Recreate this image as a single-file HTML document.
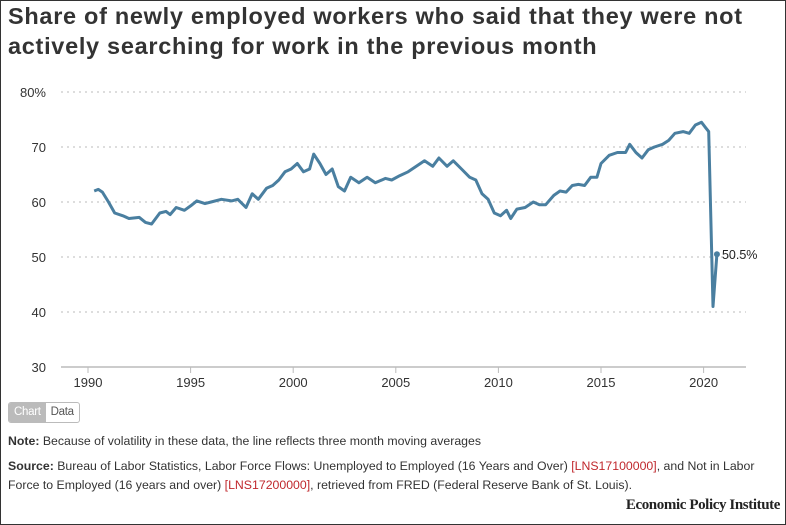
<!DOCTYPE html>
<html><head><meta charset="utf-8"><style>
body{margin:0;width:786px;height:525px;background:#fff;font-family:"Liberation Sans",sans-serif;overflow:hidden}
#frame{position:absolute;left:0;top:0;width:784px;height:523px;border:1px solid #333}
h1{position:absolute;left:8px;top:1px;margin:0;font-size:23.5px;line-height:30px;font-weight:bold;color:#333;letter-spacing:0.7px;width:775px}
.ft{position:absolute;left:8px;font-size:12.3px;color:#333;letter-spacing:0px;line-height:19px}
.red{color:#c0282d}
</style></head><body>
<div id="frame"></div>
<h1>Share of newly employed workers who said that they were not actively searching for work in the previous month</h1>
<svg id="chart" width="786" height="400" style="position:absolute;left:0;top:0"></svg>
<div style="position:absolute;left:8px;top:402px;height:19px;border:1px solid #bbb;border-radius:3px;font-size:11.5px;display:flex;overflow:hidden;letter-spacing:-0.3px">
<span style="background:#bbb;color:#fff;padding:2px 5px;line-height:15px">Chart</span>
<span style="color:#555;padding:2px 5px;line-height:15px">Data</span></div>
<div class="ft" style="top:432px"><b>Note:</b> Because of volatility in these data, the line reflects three month moving averages</div>
<div class="ft" style="top:457px;width:752px"><b>Source:</b> Bureau of Labor Statistics, Labor Force Flows: Unemployed to Employed (16 Years and Over) <span class="red">[LNS17100000]</span>, and Not in Labor Force to Employed (16 years and over) <span class="red">[LNS17200000]</span>, retrieved from FRED (Federal Reserve Bank of St. Louis).</div>
<div style="position:absolute;right:6px;top:497px;font-family:'Liberation Serif',serif;font-weight:bold;font-size:15px;color:#222;letter-spacing:-0.4px">Economic Policy Institute</div>
<script>
const years=[1990.3,1990.5,1990.7,1991,1991.3,1991.7,1992,1992.5,1992.8,1993.1,1993.5,1993.8,1994,1994.3,1994.7,1995,1995.3,1995.7,1996,1996.5,1997,1997.3,1997.7,1998,1998.3,1998.7,1999,1999.3,1999.6,1999.9,2000.2,2000.5,2000.8,2001,2001.3,2001.6,2001.9,2002.2,2002.5,2002.8,2003.2,2003.6,2004,2004.5,2004.8,2005.2,2005.6,2006,2006.4,2006.8,2007.1,2007.5,2007.8,2008.2,2008.6,2008.9,2009.2,2009.5,2009.8,2010.1,2010.4,2010.6,2010.9,2011.3,2011.7,2012,2012.3,2012.7,2013,2013.3,2013.6,2013.9,2014.2,2014.5,2014.8,2015,2015.4,2015.8,2016.2,2016.4,2016.7,2017,2017.3,2017.6,2018,2018.3,2018.6,2019,2019.3,2019.6,2019.9,2020.1,2020.25,2020.46,2020.65];
const values=[62,62.3,61.8,60,58,57.5,57,57.2,56.3,56,58,58.3,57.7,59,58.5,59.3,60.2,59.7,60,60.5,60.2,60.5,59,61.5,60.5,62.5,63,64,65.5,66,67,65.5,66,68.7,67,65,66,62.8,62,64.5,63.5,64.5,63.5,64.3,64,64.8,65.5,66.5,67.5,66.5,68,66.5,67.5,66,64.5,64,61.5,60.5,58,57.5,58.5,57,58.7,59,60,59.5,59.5,61.2,62,61.8,63,63.2,63,64.5,64.5,67,68.5,69,69,70.5,69,68,69.5,70,70.5,71.2,72.5,72.8,72.5,74,74.5,73.5,72.8,41,50.5];
const yTicks=[30,40,50,60,70,80];
const xTicks=[1990,1995,2000,2005,2010,2015,2020];
const NS='http://www.w3.org/2000/svg';
const svg=document.getElementById('chart');
const X=v=>88+(v-1990)*20.52;
const Y=v=>367-(v-30)*5.5;
function mk(t,a){const e=document.createElementNS(NS,t);for(const k in a)e.setAttribute(k,a[k]);svg.appendChild(e);return e;}
yTicks.forEach(t=>{
  const g=mk('line',{x1:61,x2:746,y1:Y(t),y2:Y(t),stroke:t===30?'#bbb':'#ddd','stroke-width':t===30?1.5:2,'stroke-dasharray':t===30?'':'2,4'});
  
  
  const l=mk('text',{x:46,y:Y(t)+5,'text-anchor':'end','font-size':13,fill:'#333'});
  l.textContent=t===80?'80%':t;
  
  
});
xTicks.forEach(t=>{
  const tk=mk('line',{x1:X(t),x2:X(t),y1:367,y2:373,stroke:'#bbb'});
  
  
  const l=mk('text',{x:X(t),y:387,'text-anchor':'middle','font-size':13,fill:'#333'});
  l.textContent=t;
  
  
});
const p=mk('path',{d:years.map((y,i)=>(i?'L':'M')+X(y).toFixed(1)+','+Y(values[i]).toFixed(1)).join(''),fill:'none',stroke:'#4a7fa0','stroke-width':3,'stroke-linejoin':'round'});


const n=years.length-1;
const d=mk('circle',{cx:X(years[n]),cy:Y(values[n]),r:3,fill:'#4a7fa0'});


const lt=mk('text',{x:X(years[n])+5,y:Y(values[n])+4.5,'font-size':12.5,fill:'#222'});
lt.textContent=values[n]+'%';


</script>
</body></html>
